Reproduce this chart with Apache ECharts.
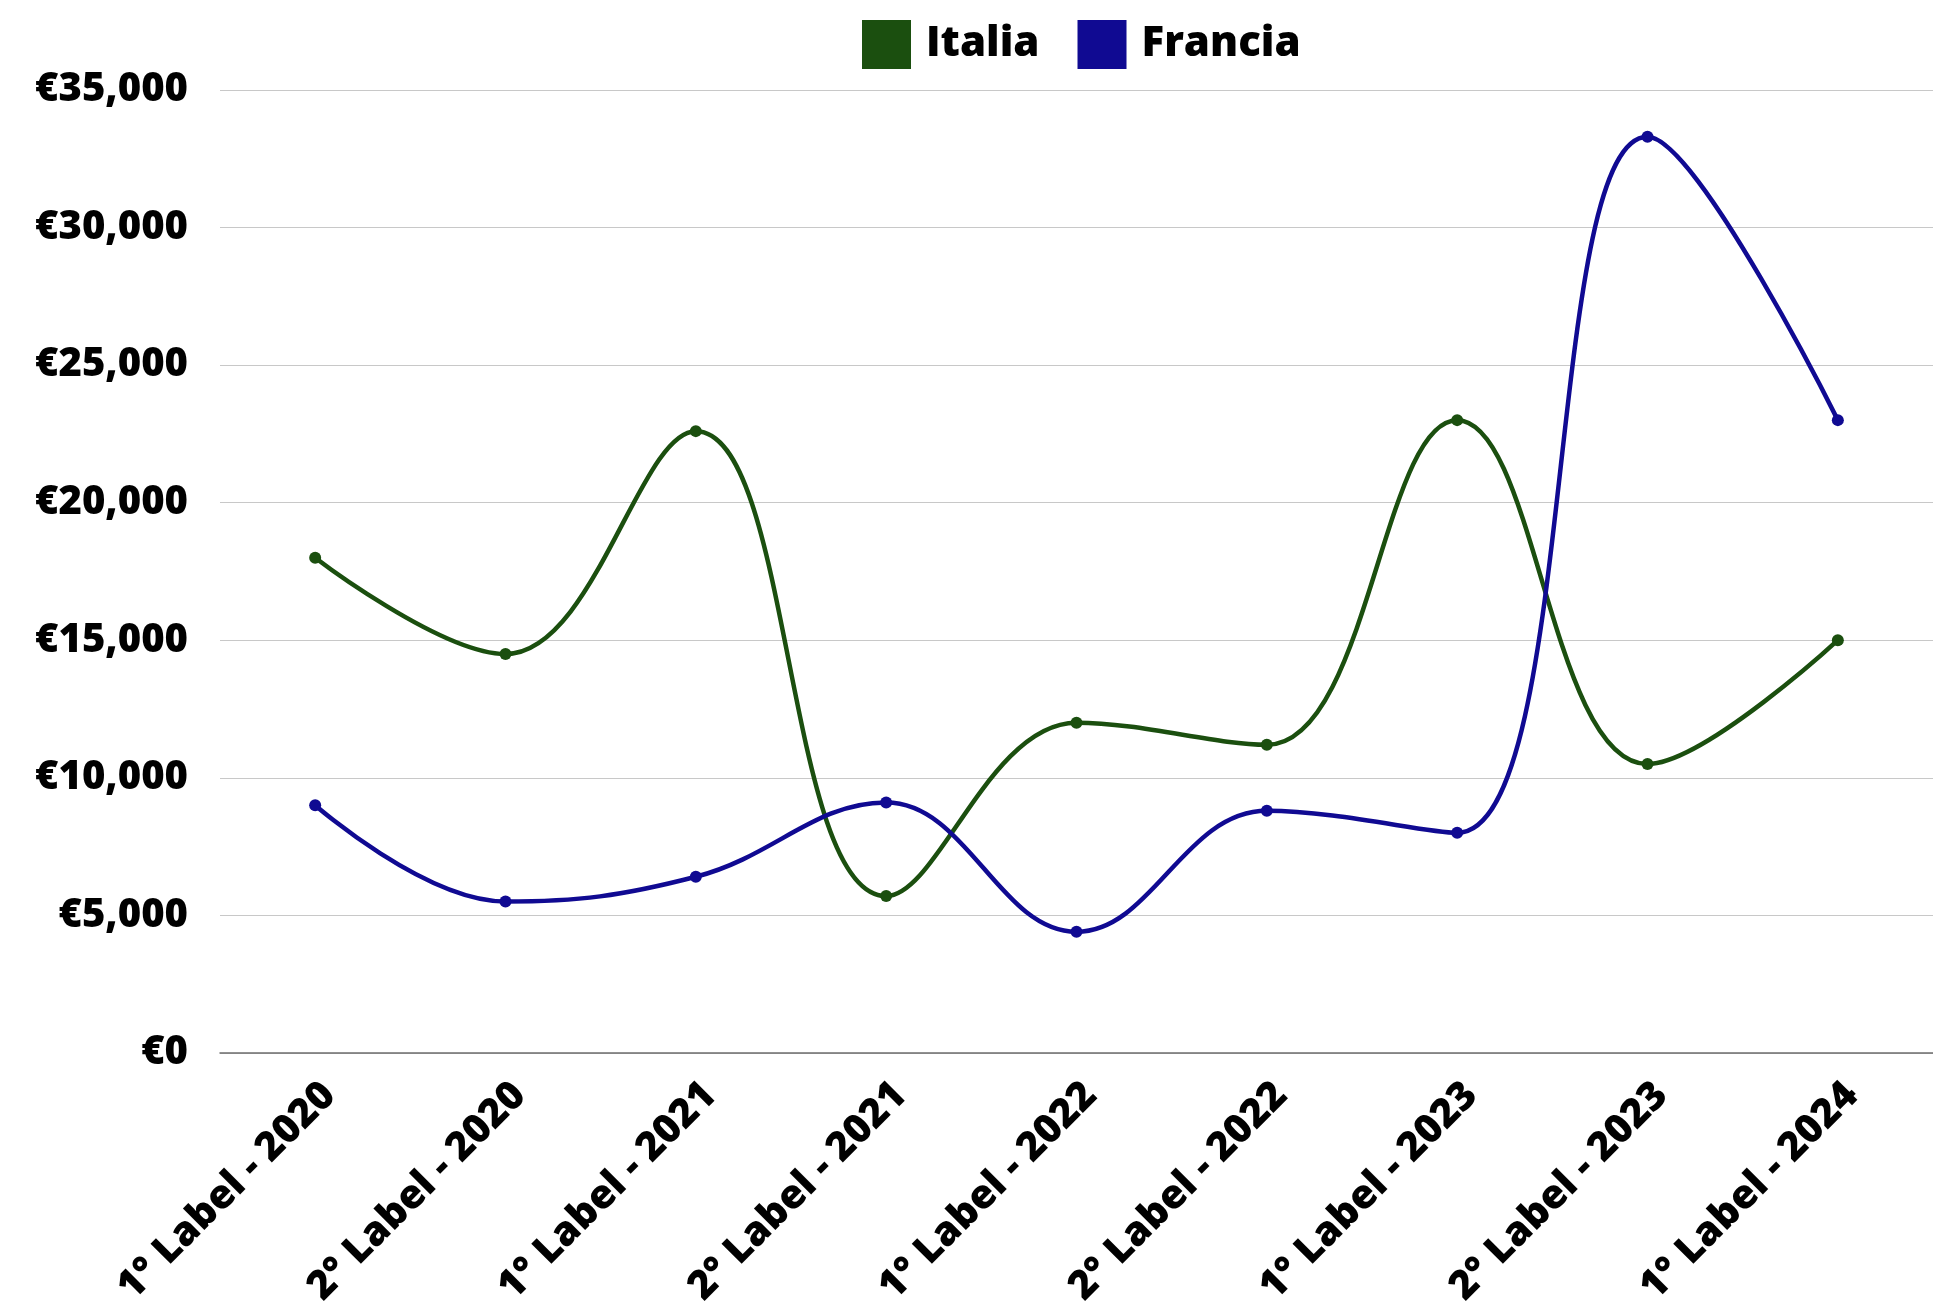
<!DOCTYPE html>
<html>
<head>
<meta charset="utf-8">
<script src="https://cdn.jsdelivr.net/npm/echarts@6/dist/echarts.min.js"></script>
<style>
  html, body { margin: 0; padding: 0; background: #fff; }
  #chart { width: 1933px; height: 1310px; }
</style>
</head>
<body>
<div id="chart"></div>
<script>
const categories = [
  '1° Label - 2020', '2° Label - 2020', '1° Label - 2021', '2° Label - 2021',
  '1° Label - 2022', '2° Label - 2022', '1° Label - 2023', '2° Label - 2023',
  '1° Label - 2024'
]
const italia = [18000, 14500, 22600, 5700, 12000, 11200, 23000, 10500, 15000]
const francia = [9000, 5500, 6400, 9100, 4400, 8800, 8000, 33300, 23000]
const yTicks = [0, 5000, 10000, 15000, 20000, 25000, 30000, 35000]

const FONT = '"Open Sans", "Noto Sans", sans-serif'
const GREEN = '#1b4f0f'
const BLUE = '#100a92'

let chart = echarts.init(document.getElementById('chart'))

// formato euro con separatore delle migliaia
function euro(v) {
  return '€' + v.toLocaleString('en-US')
}

function lineSeries(name, data, color) {
  return {
    name: name,
    type: 'line',
    data: data,
    smooth: 0.4,
    symbol: 'circle',
    symbolSize: 12,
    lineStyle: { color: color, width: 4.5 },
    itemStyle: { color: color },
    emphasis: { disabled: true }
  }
}

let option = {
  animation: false,
  legend: {
    data: ['Italia', 'Francia'],
    left: 857,
    top: 15,
    itemWidth: 49,
    itemHeight: 49,
    itemGap: 38,
    icon: 'rect',
    textStyle: {
      fontFamily: FONT,
      fontWeight: 800,
      fontSize: 42,
      color: '#000',
      padding: [0, 0, 0, 10]
    }
  },
  // la griglia sborda un po' a destra, come nell'originale
  grid: {
    left: 220,
    width: 1720,
    top: 90,
    bottom: 254,
    containLabel: false
  },
  xAxis: {
    type: 'category',
    data: categories,
    boundaryGap: true,
    axisLine: { lineStyle: { color: '#6e6e6e', width: 1.5 } },
    axisTick: { show: false },
    axisLabel: {
      rotate: 45,
      margin: 22,
      interval: 0,
      verticalAlign: 'top',
      fontFamily: FONT,
      fontWeight: 800,
      fontSize: 40,
      color: '#000'
    }
  },
  yAxis: {
    type: 'value',
    min: yTicks[0],
    max: yTicks[yTicks.length - 1],
    interval: 5000,
    axisLine: { show: false },
    axisTick: { show: false },
    splitLine: { lineStyle: { color: '#c8c8c8', width: 1.2 } },
    axisLabel: {
      margin: 32,
      fontFamily: FONT,
      fontWeight: 800,
      fontSize: 40,
      color: '#000',
      formatter: euro
    }
  },
  series: [
    lineSeries('Italia', italia, GREEN),
    lineSeries('Francia', francia, BLUE)
  ]
}

chart.setOption(option)
window.onresize = function () {
  chart.resize()
}
</script>
</body>
</html>
